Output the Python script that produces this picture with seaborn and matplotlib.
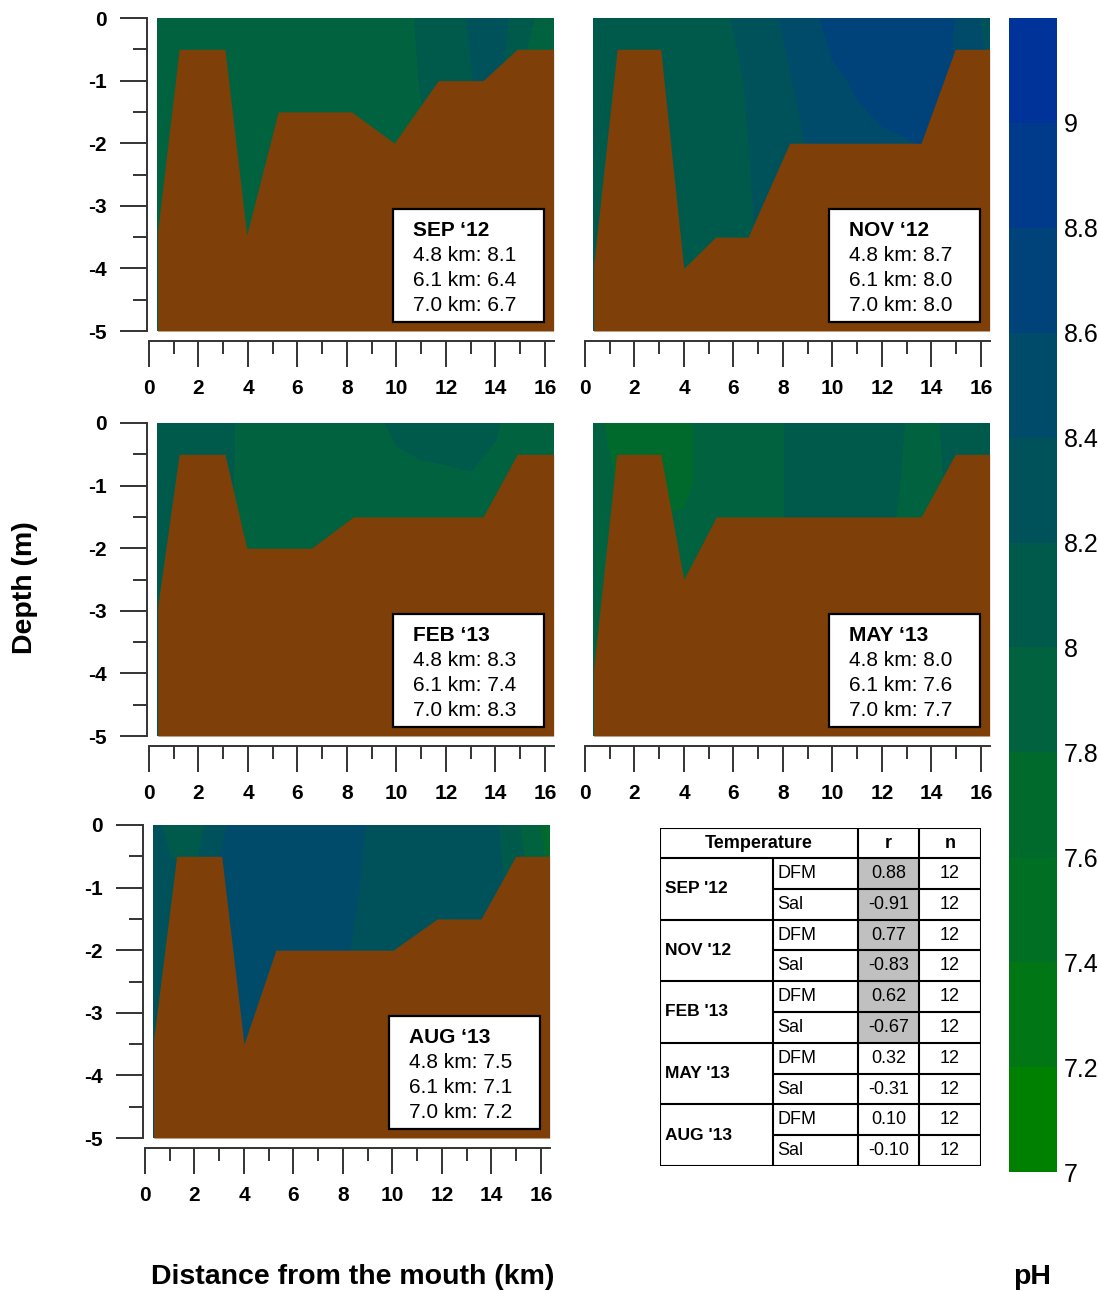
import numpy as np
import matplotlib
matplotlib.use("Agg")
import matplotlib.pyplot as plt
from matplotlib.colors import ListedColormap, BoundaryNorm
from matplotlib.cm import ScalarMappable
from matplotlib.patches import Rectangle
from matplotlib.ticker import MultipleLocator
import seaborn as sns

# ------------------------------------------------------------------ data
grid_km = [0.35, 1, 2, 3, 4, 5, 6, 7, 8, 9, 10, 11, 12, 13, 14, 15, 16, 16.35]
grid_depth = [0, -1, -2, -5]

ph_sep = [
    [7.9, 7.9, 7.9, 7.9, 7.9, 7.9, 7.9, 7.9, 7.9, 7.9, 7.9, 8.04, 8.10, 8.22, 8.30, 8.10, 7.93, 7.9],
    [7.9, 7.9, 7.9, 7.9, 7.9, 7.9, 7.9, 7.9, 7.9, 7.9, 7.9, 8.01, 8.12, 8.19, 8.30, 7.98, 7.93, 7.9],
    [7.9, 7.9, 7.9, 7.9, 7.9, 7.9, 7.9, 7.9, 7.9, 7.9, 7.9, 7.98, 8.10, 8.15, 8.30, 7.98, 7.93, 7.9],
    [7.9, 7.9, 7.9, 7.9, 7.9, 7.9, 7.9, 7.9, 7.9, 7.9, 7.9, 7.98, 8.10, 8.15, 8.30, 7.98, 7.93, 7.9],
]
ph_nov = [
    [8.1, 8.1, 8.1, 8.1, 8.1, 8.12, 8.21, 8.30, 8.42, 8.50, 8.70, 8.75, 8.75, 8.72, 8.68, 8.59, 8.39, 8.35],
    [8.1, 8.1, 8.1, 8.1, 8.1, 8.10, 8.16, 8.26, 8.35, 8.48, 8.55, 8.63, 8.68, 8.70, 8.68, 8.58, 8.45, 8.40],
    [8.1, 8.1, 8.1, 8.1, 8.1, 8.10, 8.15, 8.23, 8.30, 8.41, 8.48, 8.53, 8.57, 8.59, 8.62, 8.58, 8.45, 8.40],
    [8.1, 8.1, 8.1, 8.1, 8.1, 8.10, 8.10, 8.19, 8.28, 8.41, 8.48, 8.53, 8.57, 8.59, 8.62, 8.58, 8.45, 8.40],
]
ph_feb = [
    [8.1, 8.1, 8.1, 8.1, 7.89, 7.9, 7.9, 7.9, 7.9, 7.9, 8.085, 8.10, 8.10, 8.10, 8.02, 7.91, 7.9, 7.9],
    [8.1, 8.1, 8.1, 8.1, 7.86, 7.9, 7.9, 7.9, 7.9, 7.9, 7.85, 7.93, 7.95, 7.97, 7.95, 7.90, 7.9, 7.9],
    [8.1, 8.1, 8.1, 8.1, 7.86, 7.9, 7.9, 7.9, 7.9, 7.9, 7.90, 7.90, 7.90, 7.90, 7.90, 7.90, 7.9, 7.9],
    [8.1, 8.1, 8.1, 8.1, 7.86, 7.9, 7.9, 7.9, 7.9, 7.9, 7.90, 7.90, 7.90, 7.90, 7.90, 7.90, 7.9, 7.9],
]
ph_may = [
    [7.85, 7.77, 7.7, 7.7, 7.74, 7.9, 7.9, 7.9, 7.99, 8.16, 8.1, 8.1, 8.1, 7.99, 7.9, 8.19, 8.1, 8.1],
    [7.90, 7.83, 7.7, 7.7, 7.74, 7.9, 7.9, 7.9, 7.99, 8.15, 8.1, 8.1, 8.1, 7.96, 7.9, 8.10, 8.1, 8.1],
    [7.90, 7.90, 7.9, 7.9, 7.90, 7.9, 7.9, 7.9, 7.99, 8.15, 8.1, 8.1, 8.1, 7.85, 7.9, 8.10, 8.1, 8.1],
    [7.90, 7.90, 7.9, 7.9, 7.90, 7.9, 7.9, 7.9, 7.99, 8.15, 8.1, 8.1, 8.1, 7.85, 7.9, 8.10, 8.1, 8.1],
]
ph_aug = [
    [8.25, 8.15, 8.10, 8.34, 8.52, 8.5, 8.5, 8.5, 8.50, 8.39, 8.3, 8.3, 8.3, 8.3, 8.27, 8.03, 7.79, 7.71],
    [8.30, 8.25, 8.22, 8.45, 8.50, 8.5, 8.5, 8.5, 8.46, 8.37, 8.3, 8.3, 8.3, 8.3, 8.30, 8.10, 7.90, 7.80],
    [8.30, 8.30, 8.30, 8.45, 8.50, 8.5, 8.5, 8.5, 8.42, 8.35, 8.3, 8.3, 8.3, 8.3, 8.30, 8.10, 7.90, 7.80],
    [8.30, 8.30, 8.30, 8.45, 8.50, 8.5, 8.5, 8.5, 8.42, 8.35, 8.3, 8.3, 8.3, 8.3, 8.30, 8.10, 7.90, 7.80],
]

# river-bed profiles (distance km, depth m)
sep_bed_km = [0.35, 1.22, 3.07, 3.95, 5.22, 8.19, 9.91, 11.69, 13.5, 14.88, 16.35]
sep_bed_m = [-3.41, -0.5, -0.5, -3.47, -1.5, -1.5, -2.0, -1.0, -1.0, -0.5, -0.5]
nov_bed_km = [0.35, 1.3, 3.06, 3.99, 5.28, 6.59, 8.27, 13.58, 14.96, 16.35]
nov_bed_m = [-3.95, -0.5, -0.5, -4.0, -3.5, -3.5, -2.0, -2.0, -0.5, -0.5]
feb_bed_km = [0.35, 1.22, 3.07, 3.95, 6.57, 8.26, 13.5, 14.88, 16.35]
feb_bed_m = [-2.94, -0.5, -0.5, -2.0, -2.0, -1.5, -1.5, -0.5, -0.5]
may_bed_km = [0.35, 1.28, 3.06, 3.99, 5.31, 13.58, 14.96, 16.35]
may_bed_m = [-3.93, -0.5, -0.5, -2.5, -1.5, -1.5, -0.5, -0.5]
aug_bed_km = [0.35, 1.28, 3.1, 4.0, 5.29, 10.03, 11.81, 13.58, 14.98, 16.35]
aug_bed_m = [-3.43, -0.5, -0.5, -3.5, -2.0, -2.0, -1.5, -1.5, -0.5, -0.5]

panel_titles = ["SEP \u201812", "NOV \u201812", "FEB \u201813", "MAY \u201813", "AUG \u201813"]
box_sites = ["4.8 km", "6.1 km", "7.0 km"]
sep_box = [8.1, 6.4, 6.7]
nov_box = [8.7, 8.0, 8.0]
feb_box = [8.3, 7.4, 8.3]
may_box = [8.0, 7.6, 7.7]
aug_box = [7.5, 7.1, 7.2]

ph_levels = [7.0, 7.2, 7.4, 7.6, 7.8, 8.0, 8.2, 8.4, 8.6, 8.8, 9.0, 9.2]
ph_ticks = [7.0, 7.2, 7.4, 7.6, 7.8, 8.0, 8.2, 8.4, 8.6, 8.8, 9.0]

table_months = ["SEP '12", "NOV '12", "FEB '13", "MAY '13", "AUG '13"]
table_vars = ["DFM", "Sal"]
table_r = [0.88, -0.91, 0.77, -0.83, 0.62, -0.67, 0.32, -0.31, 0.10, -0.10]
table_n = [12, 12, 12, 12, 12, 12, 12, 12, 12, 12]
table_significant = [True, True, True, True, True, True, False, False, False, False]

# ------------------------------------------------------------------ style
sns.set_style("white")
plt.rcParams["font.family"] = ["Liberation Sans", "DejaVu Sans"]
plt.rcParams["axes.unicode_minus"] = False
for key in ["text.color", "axes.labelcolor", "xtick.color", "ytick.color", "axes.edgecolor"]:
    plt.rcParams[key] = "black"

band_colors = ["#008000", "#007614", "#006e23", "#006a2c", "#00623e", "#005a4b",
               "#00525a", "#004b69", "#00427a", "#003a8a", "#00339a"]
cmap = ListedColormap(sns.color_palette(band_colors))
norm = BoundaryNorm(ph_levels, cmap.N)
bed_color = "#7f3f08"
tick_color = "#333333"

W, H = 1098, 1292
fig = plt.figure(figsize=(W / 100, H / 100), dpi=100)


def px_rect(left, top, width, height):
    return [left / W, 1 - (top + height) / H, width / W, height / H]


PXKM = 24.75
panel_w = 16.45 * PXKM
panel_h = 313
layout = [  # left px, top px, show y axis
    (146.5, 18, True),
    (582.5, 18, False),
    (146.5, 423, True),
    (582.5, 423, False),
    (142.5, 825, True),
]
fields = [ph_sep, ph_nov, ph_feb, ph_may, ph_aug]
beds = [(sep_bed_km, sep_bed_m), (nov_bed_km, nov_bed_m), (feb_bed_km, feb_bed_m),
        (may_bed_km, may_bed_m), (aug_bed_km, aug_bed_m)]
boxes = [sep_box, nov_box, feb_box, may_box, aug_box]

for (left, top, show_y), field, (bkm, bm), title, vals in zip(layout, fields, beds, panel_titles, boxes):
    ax = fig.add_axes(px_rect(left, top, panel_w, panel_h))
    ax.contourf(grid_km, grid_depth, np.array(field), levels=ph_levels, cmap=cmap, norm=norm,
                antialiased=False)
    ax.fill_between(bkm, bm, -5, color=bed_color, linewidth=0, zorder=2)
    ax.set_xlim(-0.1, 16.35)
    ax.set_ylim(-5, 0)
    for s in ["top", "right"]:
        ax.spines[s].set_visible(False)
    ax.spines["bottom"].set_position(("outward", 7.2))
    ax.spines["bottom"].set_bounds(0, 16.35)
    ax.spines["bottom"].set_linewidth(1.4)
    ax.spines["bottom"].set_color(tick_color)
    ax.spines["left"].set_linewidth(1.4)
    ax.spines["left"].set_color(tick_color)
    ax.spines["left"].set_bounds(-5, 0)
    ax.set_xticks(range(0, 17, 2))
    ax.xaxis.set_minor_locator(MultipleLocator(1))
    ax.tick_params(axis="x", which="major", bottom=True, length=18.5, width=1.4, direction="out",
                   pad=9, labelsize=15, color=tick_color)
    ax.tick_params(axis="x", which="minor", bottom=True, length=9, width=1.4, direction="out",
                   color=tick_color)
    if show_y:
        ax.set_yticks([0, -1, -2, -3, -4, -5])
        ax.yaxis.set_minor_locator(MultipleLocator(0.5))
        ax.tick_params(axis="y", which="major", left=True, length=19.5, width=1.4, direction="out",
                       pad=9, labelsize=15, color=tick_color)
        ax.tick_params(axis="y", which="minor", left=True, length=10, width=1.4, direction="out",
                       color=tick_color)
        plt.setp(ax.get_yticklabels(), fontweight="bold")
    else:
        ax.spines["left"].set_visible(False)
        ax.tick_params(axis="y", which="both", left=False, labelleft=False)
    plt.setp(ax.get_xticklabels(), fontweight="bold")

    ax.add_patch(Rectangle((9.86, -4.86), 6.1, 1.81, facecolor="white", edgecolor="black",
                           linewidth=1.6, zorder=5))
    ax.text(10.67, -3.40, title, fontsize=15, fontweight="bold", va="center", ha="left", zorder=6)
    for i, (site, v) in enumerate(zip(box_sites, vals)):
        ax.text(10.67, -3.80 - 0.40 * i, f"{site}: {v:.1f}", fontsize=15, va="center",
                ha="left", zorder=6)

# ------------------------------------------------------------------ colorbar
cax = fig.add_axes(px_rect(1009, 18, 48, 1154))
cb = fig.colorbar(ScalarMappable(norm=norm, cmap=cmap), cax=cax, ticks=ph_ticks)
cb.outline.set_visible(False)
cb.set_ticklabels([f"{t:g}" for t in ph_ticks])
cax.minorticks_off()
cax.tick_params(which="both", length=0, pad=5, labelsize=18)
for lab in cax.get_yticklabels():
    lab.set_fontfamily(["Liberation Sans Narrow", "Liberation Sans"])

# ------------------------------------------------------------------ table
tx0, tx1, ty0, ty1 = 660, 981, 828, 1166
tab = fig.add_axes(px_rect(tx0, ty0, tx1 - tx0, ty1 - ty0))
tab.set_xlim(tx0, tx1)
tab.set_ylim(ty1, ty0)
tab.axis("off")
cols = [660, 773, 858, 919, 981]
head_bot = 858
row_h = (ty1 - head_bot) / len(table_r)
lw = 1.5
for i, (r, n, sig) in enumerate(zip(table_r, table_n, table_significant)):
    yt = head_bot + i * row_h
    yc = yt + row_h / 2
    if sig:
        tab.add_patch(Rectangle((cols[2], yt), cols[3] - cols[2], row_h, facecolor="#c0c0c0",
                                edgecolor="none"))
    tab.text(cols[1] + 4, yc, table_vars[i % 2], fontsize=13, ha="left", va="center")
    tab.text((cols[2] + cols[3]) / 2, yc, f"{r:.2f}", fontsize=13, ha="center", va="center")
    tab.text((cols[3] + cols[4]) / 2, yc, f"{n}", fontsize=13, ha="center", va="center")
    if i % 2 == 1:
        tab.plot([cols[1], cols[4]], [yt, yt], color="black", lw=lw, solid_capstyle="butt")
for k, m in enumerate(table_months):
    yt = head_bot + 2 * k * row_h
    tab.plot([tx0, tx1], [yt, yt], color="black", lw=lw)
    tab.text(cols[0] + 5, yt + row_h, m, fontsize=12.5, fontweight="bold", ha="left", va="center")
tab.plot([tx0, tx1, tx1, tx0, tx0], [ty0, ty0, ty1, ty1, ty0], color="black", lw=lw)
tab.plot([cols[1], cols[1]], [head_bot, ty1], color="black", lw=lw)
for c in cols[2:4]:
    tab.plot([c, c], [ty0, ty1], color="black", lw=lw)
tab.text((cols[0] + cols[2]) / 2, (ty0 + head_bot) / 2, "Temperature", fontsize=13,
         fontweight="bold", ha="center", va="center")
tab.text((cols[2] + cols[3]) / 2, (ty0 + head_bot) / 2, "r", fontsize=13, fontweight="bold",
         ha="center", va="center")
tab.text((cols[3] + cols[4]) / 2, (ty0 + head_bot) / 2, "n", fontsize=13, fontweight="bold",
         ha="center", va="center")

# ------------------------------------------------------------------ labels
fig.text(25 / W, 1 - 588 / H, "Depth (m)", rotation=90, fontsize=20.5, fontweight="bold",
         ha="center", va="center")
fig.text(353 / W, 1 - 1277 / H, "Distance from the mouth (km)", fontsize=20.5,
         fontweight="bold", ha="center", va="center")
fig.text(1032 / W, 1 - 1277 / H, "pH", fontsize=20.5, fontweight="bold", ha="center",
         va="center")

fig.savefig("out.png", dpi=100)
